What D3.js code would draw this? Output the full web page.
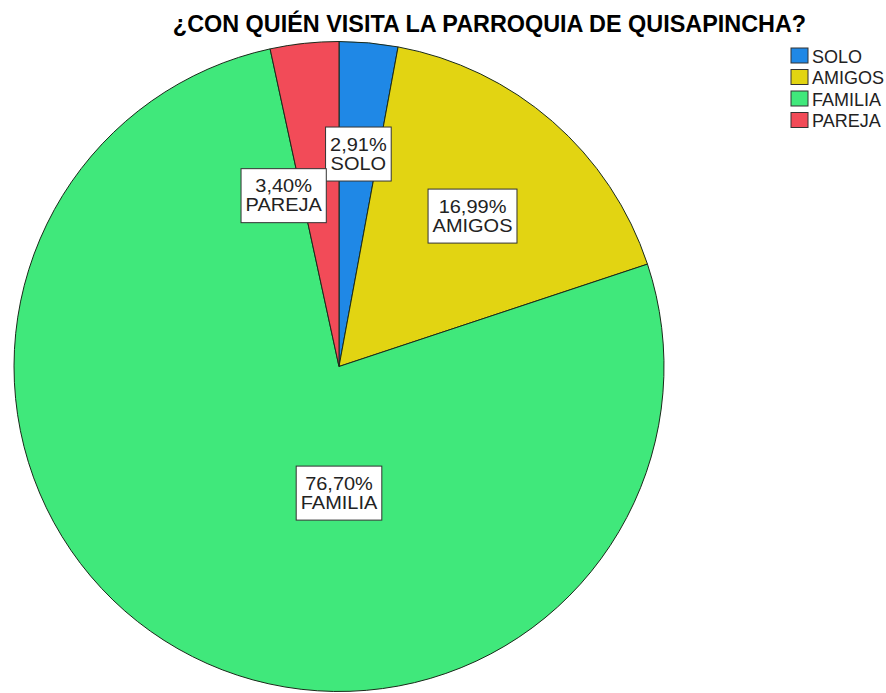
<!DOCTYPE html>
<html>
<head>
<meta charset="utf-8">
<script src="https://cdn.jsdelivr.net/npm/d3@7/dist/d3.min.js"></script>
<style>
  html, body { margin: 0; padding: 0; background: #fff; }
  svg { display: block; font-family: "Liberation Sans", Arial, sans-serif; }
</style>
</head>
<body>
<svg id="chart" width="886" height="693"></svg>
<script>
// ---- data ----
const title = "¿CON QUIÉN VISITA LA PARROQUIA DE QUISAPINCHA?";
const categories = ["SOLO", "AMIGOS", "FAMILIA", "PAREJA"];
const values = [2.91, 16.99, 76.70, 3.40];
const colors = ["#1f88e6", "#e2d412", "#40e87b", "#f24b58"];

// ---- layout (label anchor: angle in degrees from 12 o'clock, radius fraction) ----
const labelAngles = [5.2, 41.5, 180, -17.9];
const labelRadii = [0.658, 0.62, 0.388, 0.554];

const W = 886, H = 693;
const cx = 339, cy = 366.5, R = 325;

const svg = d3.select("#chart");

svg.append("text")
  .attr("x", 489.5).attr("y", 32)
  .attr("text-anchor", "middle")
  .attr("font-size", 23.4).attr("font-weight", "bold")
  .attr("fill", "#000")
  .text(title);

const color = d3.scaleOrdinal().domain(categories).range(colors);

const pie = d3.pie().sort(null).value(d => d.v).startAngle(0).endAngle(2 * Math.PI);
const data = categories.map((c, i) => ({ c, v: values[i], i }));
const arcs = pie(data);
const arc = d3.arc().innerRadius(0).outerRadius(R);

const g = svg.append("g").attr("transform", `translate(${cx},${cy})`);
g.selectAll("path.slice").data(arcs).join("path")
  .attr("class", "slice")
  .attr("d", arc)
  .attr("fill", d => color(d.data.c))
  .attr("stroke", "#1a2a1a")
  .attr("stroke-width", 1);

const fmt = v => d3.format(".2f")(v).replace(".", ",") + "%";

const labels = g.selectAll("g.lbl").data(arcs).join("g")
  .attr("class", "lbl")
  .attr("transform", d => {
    const a = labelAngles[d.data.i] * Math.PI / 180;
    const r = labelRadii[d.data.i] * R;
    return `translate(${r * Math.sin(a)},${-r * Math.cos(a)})`;
  });

labels.each(function(d) {
  const sel = d3.select(this);
  const rect = sel.append("rect").attr("fill", "#fff").attr("stroke", "#333").attr("stroke-width", 1);
  const tg = sel.append("g").attr("transform", "scale(1.08,1)");
  const t1 = tg.append("text").attr("text-anchor", "middle").attr("font-size", 18.5)
    .attr("fill", "#222").attr("x", 0).attr("y", -3).text(fmt(d.data.v));
  const t2 = tg.append("text").attr("text-anchor", "middle").attr("font-size", 18.5)
    .attr("fill", "#222").attr("x", 0).attr("y", 16).text(d.data.c);
  const bw = Math.max(t1.node().getComputedTextLength(), t2.node().getComputedTextLength()) * 1.08;
  const w = bw + 9, h = 54;
  rect.attr("x", -w / 2).attr("y", -h / 2 + 0.5).attr("width", w).attr("height", h);
});

// legend
const lg = svg.append("g").attr("transform", "translate(791,48)");
const items = lg.selectAll("g").data(categories).join("g")
  .attr("transform", (d, i) => `translate(0,${i * 21.5})`);
items.append("rect").attr("width", 17).attr("height", 15)
  .attr("fill", d => color(d)).attr("stroke", "#333").attr("stroke-width", 1);
items.append("text").attr("x", 21).attr("y", 14.5)
  .attr("font-size", 18).attr("fill", "#222").text(d => d);
</script>
</body>
</html>
